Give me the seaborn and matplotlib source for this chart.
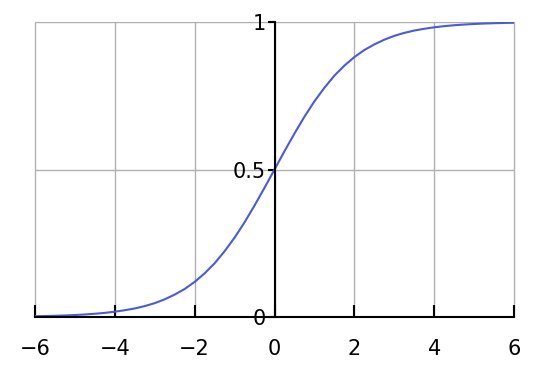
import matplotlib
matplotlib.use("Agg")
import matplotlib.pyplot as plt
import seaborn as sns
import pandas as pd

# Values
x_vals = [-6, -5.75, -5.5, -5.25, -5, -4.75, -4.5, -4.25, -4, -3.75, -3.5,
          -3.25, -3, -2.75, -2.5, -2.25, -2, -1.75, -1.5, -1.25, -1, -0.75,
          -0.5, -0.25, 0, 0.25, 0.5, 0.75, 1, 1.25, 1.5, 1.75, 2, 2.25, 2.5,
          2.75, 3, 3.25, 3.5, 3.75, 4, 4.25, 4.5, 4.75, 5, 5.25, 5.5, 5.75, 6]
y_vals = [0.0025, 0.0032, 0.0041, 0.0052, 0.0067, 0.0086, 0.011, 0.014,
          0.018, 0.023, 0.029, 0.037, 0.047, 0.060, 0.076, 0.095, 0.119,
          0.148, 0.182, 0.223, 0.269, 0.321, 0.378, 0.438, 0.5, 0.562,
          0.622, 0.679, 0.731, 0.777, 0.818, 0.852, 0.881, 0.905, 0.924,
          0.940, 0.953, 0.963, 0.971, 0.977, 0.982, 0.986, 0.989, 0.9914,
          0.9933, 0.9948, 0.9959, 0.9968, 0.9975]
x_ticks = [-6, -4, -2, 0, 2, 4, 6]
y_ticks = [0, 0.5, 1]
y_tick_labels = ["0", "0.5", "1"]

df = pd.DataFrame({"x": x_vals, "y": y_vals})

sns.set_style("white")
plt.rcParams['font.family'] = ['DejaVu Sans']

fig = plt.figure(figsize=(5.5, 3.66), dpi=100)
ax = fig.add_axes([35/550, 1 - 317/366, (514-35)/550, (317-22)/366])

sns.lineplot(data=df, x="x", y="y", ax=ax, color="#4c5ad4", linewidth=1.5, zorder=3)

ax.set_xlim(-6, 6)
ax.set_ylim(0, 1)
ax.set_xticks(x_ticks)
ax.set_yticks(y_ticks)
ax.set_yticklabels(y_tick_labels)
ax.set_xlabel("")
ax.set_ylabel("")

ax.grid(True, color="#b0b0b0", linewidth=1.0, zorder=0)
ax.set_axisbelow(True)
for gl in ax.get_xgridlines() + ax.get_ygridlines():
    gl.set_clip_on(False)

ax.spines['top'].set_visible(False)
ax.spines['right'].set_visible(False)
ax.spines['left'].set_position(('data', 0))
for s in ('left', 'bottom'):
    ax.spines[s].set_color('black')
    ax.spines[s].set_linewidth(1.5)
    ax.spines[s].set_zorder(4)

ax.tick_params(axis='x', direction='in', length=9, width=1.5, color='black',
               labelcolor='black', labelsize=15, pad=16, bottom=True)
ax.tick_params(axis='y', direction='out', length=5, width=1.5, color='black',
               labelcolor='black', labelsize=15, pad=1, left=True)

fig.savefig("out.png", dpi=100, facecolor="white")
